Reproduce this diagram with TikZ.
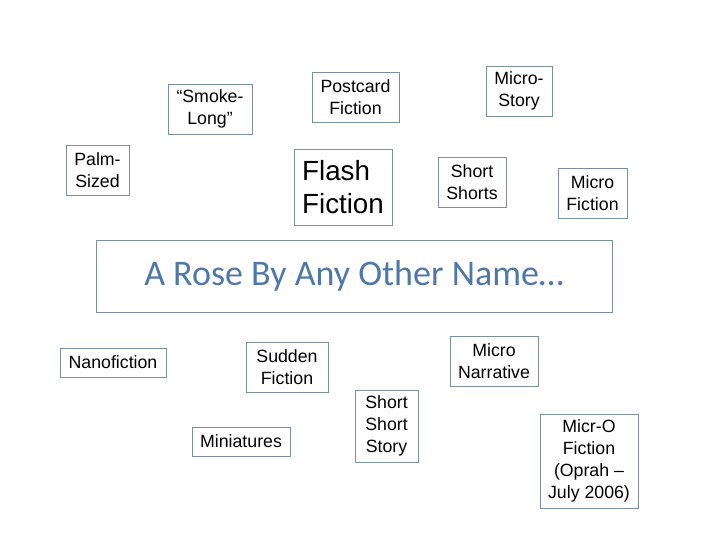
\documentclass[tikz,border=0pt]{standalone}
\usepackage{fontspec}
\setmainfont{Liberation Sans}
\newfontfamily\titlefont{Carlito}
\usepackage{tikz}
\usetikzlibrary{positioning}
\usepackage{xcolor}
\definecolor{boxline}{HTML}{7A8FA3}
\definecolor{roseblue}{HTML}{4F78AA}

\begin{document}
\begin{tikzpicture}[
    x=0.75pt, y=-0.75pt,
    nameBox/.style={rectangle, draw=boxline, line width=0.6pt, fill=white, align=center, inner sep=2pt, font=\fontsize{13.3}{16.5}\selectfont, minimum height=50*0.75pt},
    flashBox/.style={nameBox, align=left, font=\fontsize{20.8}{25}\selectfont},
    titleBox/.style={rectangle, draw=boxline, line width=0.6pt, text=roseblue, font=\titlefont\fontsize{27}{30}\selectfont}
]
    % Cornice della pagina
    \useasboundingbox (0,0) rectangle (720,540);

    % Riga in alto
    \node[nameBox, minimum width=84*0.75pt] (smokeLong) at (210,109) {``Smoke-\\Long''};
    \node[nameBox, minimum width=87*0.75pt] (postcard) at (355.5,97) {Postcard\\Fiction};
    \node[nameBox, minimum width=66*0.75pt] (microStory) at (519,91) {Micro-\\Story};

    % Riga centrale
    \node[nameBox, minimum width=63*0.75pt] (palmSized) at (97.5,170) {Palm-\\Sized};
    \node[flashBox, minimum width=98*0.75pt, minimum height=76*0.75pt] (flash) at (343,187) {Flash\\Fiction};
    \node[nameBox, minimum width=68*0.75pt] (shortShorts) at (472,182) {Short\\Shorts};
    \node[nameBox, minimum width=69*0.75pt] (microFiction) at (592.5,193) {Micro\\Fiction};

    % Titolo
    \node[titleBox, minimum width=516*0.75pt, minimum height=72*0.75pt] (title) at (354,276) {A Rose By Any Other Name\ldots};

    % Parte bassa
    \node[nameBox, minimum width=106*0.75pt, minimum height=29*0.75pt] (nano) at (113,362.5) {Nanofiction};
    \node[nameBox, minimum width=82*0.75pt] (sudden) at (287,367) {Sudden\\Fiction};
    \node[nameBox, minimum width=88*0.75pt] (narrative) at (494,361) {Micro\\Narrative};
    \node[nameBox, minimum width=98*0.75pt, minimum height=29*0.75pt] (miniatures) at (241,441.5) {Miniatures};
    \node[nameBox, minimum width=63*0.75pt, minimum height=72*0.75pt] (shortStory) at (386.5,426) {Short\\Short\\Story};
    \node[nameBox, minimum width=98*0.75pt, minimum height=94*0.75pt] (oprah) at (589,461) {Micr-O\\Fiction\\(Oprah --\\July 2006)};
\end{tikzpicture}
\end{document}
